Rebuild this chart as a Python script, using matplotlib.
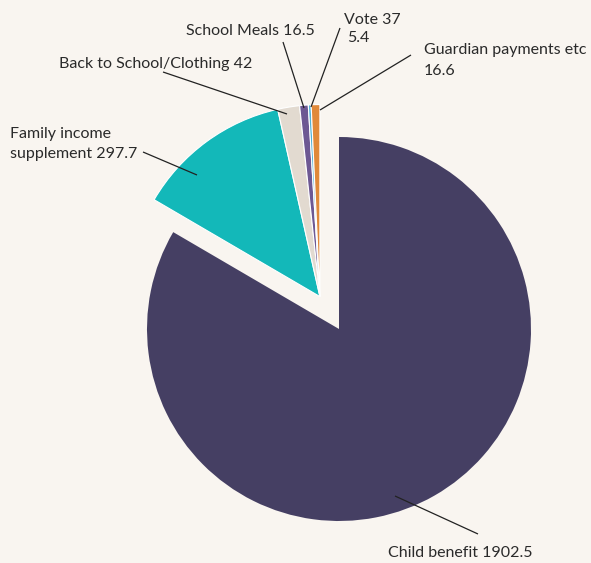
import matplotlib
matplotlib.use("Agg")
import matplotlib.pyplot as plt
import numpy as np

labels = ["Child benefit", "Family income supplement", "Back to School/Clothing",
          "School Meals", "Vote 37", "Guardian payments etc"]
values = [1902.5, 297.7, 42, 16.5, 5.4, 16.6]
colors = ["#453f63", "#13b8b9", "#e2dad0", "#6d5893", "#4fb0d6", "#e0893a"]

W, H = 591, 563
BG = "#f9f5f0"
TXT = "#2a2a2a"

fig = plt.figure(figsize=(W / 100, H / 100), dpi=100, facecolor=BG)
ax = fig.add_axes([0, 0, 1, 1])
ax.set_facecolor(BG)

def py(y):
    return H - y

cx, cy, r = 339, py(329), 192
wedges, _ = ax.pie(values, colors=colors, startangle=90, counterclock=False,
                   center=(cx, cy), radius=r,
                   wedgeprops=dict(edgecolor="white", linewidth=0.8))
wedges[0].set_edgecolor(colors[0])
wedges[0].set_linewidth(0)

# explode the non-child-benefit group together along its mid angle
ang = np.deg2rad(120.5)
d = 0.196 * r
for w in wedges[1:]:
    w.set_center((cx + d * np.cos(ang), cy + d * np.sin(ang)))

ax.set_xlim(0, W)
ax.set_ylim(0, H)
ax.set_aspect("equal")
ax.axis("off")

fs = 11.5
fam = ["Lato", "DejaVu Sans"]

def txt(x, y, s):
    ax.text(x, py(y), s, ha="left", va="baseline", fontsize=fs, color=TXT, family=fam)

def line(x1, y1, x2, y2):
    ax.plot([x1, x2], [py(y1), py(y2)], color="#222222", lw=0.9, solid_capstyle="butt")

txt(186, 35, f"School Meals {values[3]}")
line(283, 42, 304, 108)

txt(59, 68, f"Back to School/Clothing {values[2]:g}")
line(163, 72, 287, 114)

txt(344, 24, "Vote 37")
txt(347, 42, f"{values[4]}")
line(340, 28, 311, 107)

txt(424, 54, "Guardian payments etc")
txt(424, 75, f"{values[5]}")
line(411, 55, 320, 110)

txt(10, 138, "Family income")
txt(10, 158, f"supplement {values[1]}")
line(143, 152, 197, 175)

txt(388, 557, f"Child benefit {values[0]}")
line(395, 496, 478, 534)

fig.savefig("out.png", dpi=100, facecolor=BG)
